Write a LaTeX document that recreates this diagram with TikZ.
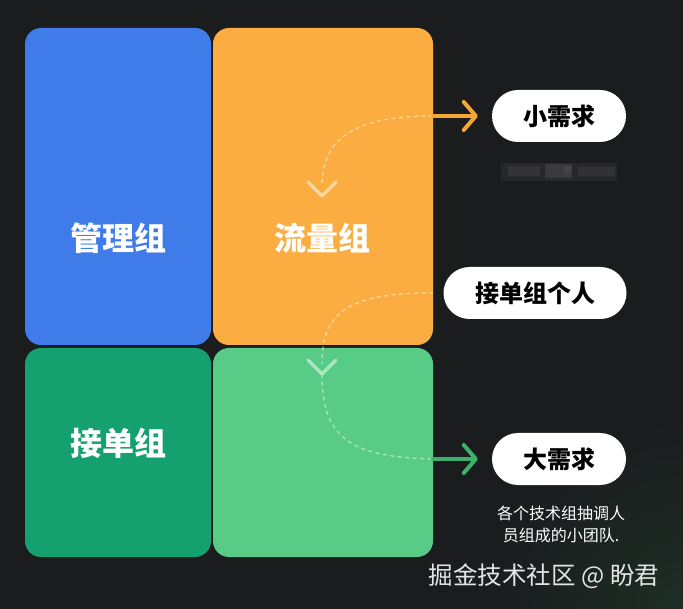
\documentclass[tikz,border=0pt]{standalone}
\usepackage{fontspec}
\setmainfont{Noto Sans CJK SC}
\usetikzlibrary{arrows.meta,calc}
\definecolor{bg}{HTML}{1B1C1E}
\definecolor{cblue}{HTML}{3F7CEA}
\definecolor{corange}{HTML}{FBAD41}
\definecolor{cdgreen}{HTML}{14A06F}
\definecolor{clgreen}{HTML}{58CB86}
\definecolor{aorange}{HTML}{F5A636}
\definecolor{agreen}{HTML}{3DB06C}
\definecolor{glow}{HTML}{1D2E25}
\begin{document}
\begin{tikzpicture}[x=1pt,y=-1pt,
  box/.style={rectangle, rounded corners=16pt, inner sep=0pt, outer sep=0pt, anchor=north west, draw=none},
  boxtext/.style={text=white, font=\bfseries\fontsize{32}{32}\selectfont},
  pill/.style={rectangle, rounded corners=26pt, fill=white, minimum height=52pt, inner sep=0pt, text=black, font=\bfseries\fontsize{24}{24}\selectfont},
  solidarrow/.style={line width=4pt, line cap=round, shorten >=14pt, -{Straight Barb[length=12pt,width=28pt,round]}},
  dashline/.style={draw=white, draw opacity=0.5, line width=1.3pt, dash pattern=on 4pt off 3.5pt},
  chevron/.style={draw=white, draw opacity=0.5, line width=3.5pt, line cap=round, line join=round}
]
\useasboundingbox (0,0) rectangle (683,609);
\fill[bg] (0,0) rectangle (683,609);
\begin{scope}
\clip (0,0) rectangle (683,609);
\shade[inner color=glow, outer color=bg] (683,609) circle (190pt);
\end{scope}

% boxes
\node[box, fill=cblue, minimum width=186pt, minimum height=317pt] (mgmtbox) at (25,28) {};
\node[box, fill=corange, minimum width=220pt, minimum height=317pt] (flowbox) at (213,28) {};
\node[box, fill=cdgreen, minimum width=186pt, minimum height=209pt] (orderbox) at (25,348) {};
\node[box, fill=clgreen, minimum width=220pt, minimum height=209pt] (teambox) at (213,348) {};

\node[boxtext] (mgmt) at (118,238) {管理组};
\node[boxtext] (flow) at (322,238) {流量组};
\node[boxtext] (order) at (118,443) {接单组};

% pills
\node[pill, minimum width=134pt] (small) at (559,116) {小需求};
\node[pill, minimum width=183pt] (person) at (535,293) {接单组个人};
\node[pill, minimum width=134pt] (big) at (559,459) {大需求};

% blurred line under small
\fill[fill={rgb,255:red,40;green,40;blue,42}] (501,163) rectangle (617,181);
\fill[fill={rgb,255:red,52;green,52;blue,54}] (508,166) rectangle (540,176);
\fill[fill={rgb,255:red,58;green,58;blue,60}] (545,164) rectangle (572,178);
\fill[fill={rgb,255:red,68;green,68;blue,70}] (564,166) rectangle (571,173);
\fill[fill={rgb,255:red,50;green,50;blue,52}] (578,167) rectangle (615,176);

% caption
\node[text=white, align=center, font=\fontsize{16}{22}\selectfont] (cap) at (561,524) {各个技术组抽调人\\员组成的小团队.};

% watermark
\node[text={rgb,255:red,228;green,228;blue,228}, font=\fontsize{24.5}{25}\selectfont] (mark) at (544,576) {掘金技术社区 @ 盼君};

% connectors
\coordinate (s1) at (flowbox.east |- small.west);
\coordinate (s2) at (flowbox.east |- person.west);
\coordinate (s3) at (teambox.east |- big.west);
\coordinate (v1) at (322,196);
\coordinate (v2) at (322,374);
\coordinate (e1) at (322,186);
\coordinate (e2) at (322,364);

\draw[dashline] (s1) .. controls (352,116) and (322,140) .. (e1);
\draw[chevron] ($(v1)+(-14,-14)$) -- (v1) -- ($(v1)+(14,-14)$);
\draw[dashline] (s2) .. controls (348,293) and (322,312) .. (e2);
\draw[chevron] ($(v2)+(-14,-14)$) -- (v2) -- ($(v2)+(14,-14)$);
\draw[dashline] (v2) .. controls (322,438) and (350,457) .. (s3);

\draw[solidarrow, draw=aorange] (s1) -- (small.west);
\draw[solidarrow, draw=agreen] (s3) -- (big.west);
\end{tikzpicture}
\end{document}
